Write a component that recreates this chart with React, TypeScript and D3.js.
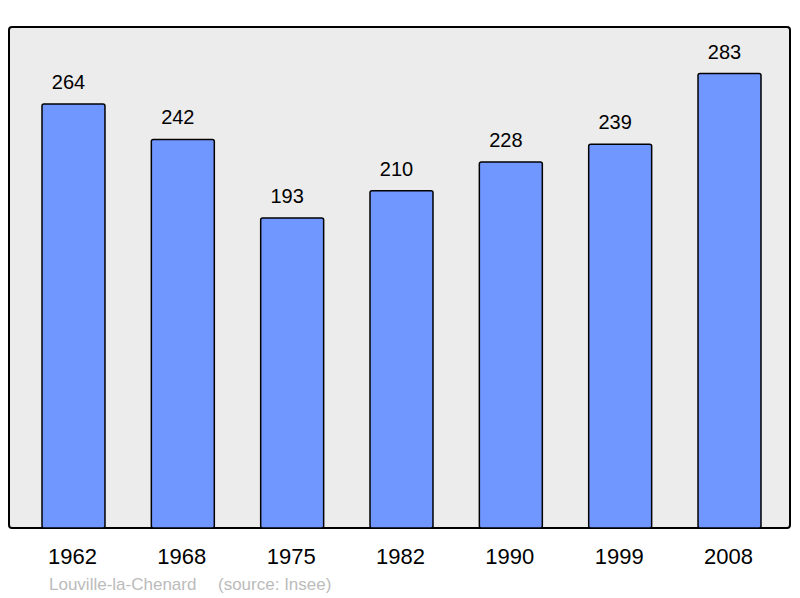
import * as React from 'react';
import * as d3 from 'd3';

const years = ['1962', '1968', '1975', '1982', '1990', '1999', '2008'];
const population = [264, 242, 193, 210, 228, 239, 283];
const commune = 'Louville-la-Chenard';
const source = '(source: Insee)';

const WIDTH = 800;
const HEIGHT = 598;
const PANEL = { left: 9, top: 27, right: 790, bottom: 528 };

export default function App() {
  const x = d3
    .scaleBand<string>()
    .domain(years)
    .range([42, 761])
    .paddingInner(0.424)
    .paddingOuter(0);

  const y = d3.scaleLinear().domain([0, 312]).range([PANEL.bottom, PANEL.top]);

  const font = 'Liberation Sans, Arial, sans-serif';

  return (
    <svg
      width={WIDTH}
      height={HEIGHT}
      style={{ position: 'absolute', left: 0, top: 0 }}
      fontFamily={font}
    >
      <rect x={0} y={0} width={WIDTH} height={HEIGHT} fill="#fff" />
      <rect
        x={PANEL.left}
        y={PANEL.top}
        width={PANEL.right - PANEL.left}
        height={PANEL.bottom - PANEL.top}
        rx={3}
        fill="#ececec"
        stroke="#000"
        strokeWidth={2}
      />
      {years.map((yr, i) => {
        const v = population[i];
        const bx = x(yr) ?? 0;
        const cx = bx + x.bandwidth() / 2;
        return (
          <g key={yr}>
            <rect
              x={bx}
              y={y(v)}
              width={x.bandwidth()}
              height={PANEL.bottom - y(v)}
              rx={2}
              fill="#7096ff"
              stroke="#000"
              strokeWidth={1.5}
            />
            <text x={cx - 5} y={y(v) - 15} textAnchor="middle" fontSize={20} fill="#000">
              {v}
            </text>
            <text x={cx - 1} y={564} textAnchor="middle" fontSize={22} fill="#000">
              {yr}
            </text>
          </g>
        );
      })}
      <text x={49} y={590} fontSize={17} fill="#bbb">
        {commune}
      </text>
      <text x={218} y={590} fontSize={17} fill="#bbb">
        {source}
      </text>
    </svg>
  );
}
